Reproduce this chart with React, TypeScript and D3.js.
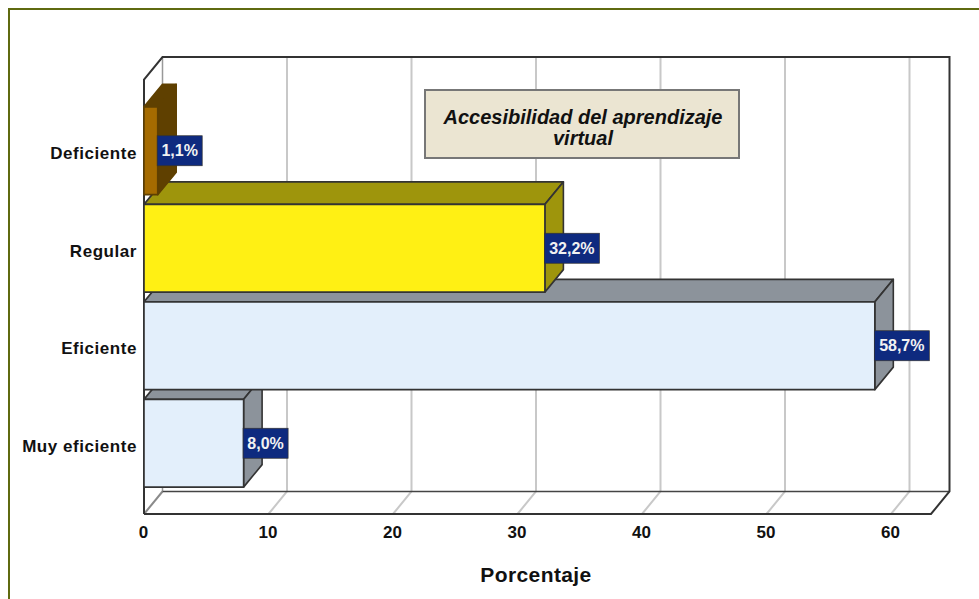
import React from 'react';
import * as d3 from 'd3';

const categories = ['Deficiente', 'Regular', 'Eficiente', 'Muy eficiente'];
const values = [1.1, 32.2, 58.7, 8.0];
const valueLabels = ['1,1%', '32,2%', '58,7%', '8,0%'];
const frontColors = ['#A56B00', '#FFF014', '#E3EFFB', '#E3EFFB'];
const sideColors = ['#5F4000', '#9E950C', '#8C939B', '#8C939B'];
const edgeColors = ['#5F4000', '#333', '#333', '#333'];
const xTicks = [0, 10, 20, 30, 40, 50, 60];
const titleLines = ['Accesibilidad del aprendizaje', 'virtual'];

const WIDTH = 979;
const HEIGHT = 599;
const DX = 18.5;
const DY = -22.5;
const FONT = '"Liberation Sans", Arial, sans-serif';

// front plane of the 3D box
const left = 144;
const right = 931;
const top = 79.5;
const bottom = 514;

const App: React.FC = () => {
  const x = d3.scaleLinear().domain([0, 60]).range([left, 891]);
  const y = d3.scaleBand<string>()
    .domain(categories)
    .range([102, 492])
    .paddingInner(0.1)
    .paddingOuter(0.05);

  const line = d3.line();

  return (
    <svg
      width={WIDTH}
      height={HEIGHT}
      style={{ position: 'absolute', left: 0, top: 0, background: '#fff' }}
      fontFamily={FONT}
    >
      {/* outer frame */}
      <path d="M979,9H9V599" fill="none" stroke="#5F6A10" strokeWidth={2} />

      {/* grid on back wall and floor */}
      {xTicks.slice(1).map(t => (
        <path
          key={t}
          d={line([[x(t) + DX, top + DY], [x(t) + DX, bottom + DY], [x(t), bottom]]) || ''}
          fill="none"
          stroke="#C8C8C8"
          strokeWidth={2}
        />
      ))}

      {/* box outline */}
      <path
        d={line([[left, bottom], [left + DX, bottom + DY]]) || ''}
        stroke="#8A8A8A"
        strokeWidth={2}
        fill="none"
      />
      <path
        d={line([[left + DX, top + DY], [left + DX, bottom + DY]]) || ''}
        stroke="#999"
        strokeWidth={1.5}
        fill="none"
      />
      <path
        d={line([[left + DX, bottom + DY], [right + DX, bottom + DY]]) || ''}
        stroke="#444"
        strokeWidth={1.5}
        fill="none"
      />
      <path
        d={line([
          [left, bottom],
          [left, top],
          [left + DX, top + DY],
          [right + DX, top + DY],
          [right + DX, bottom + DY],
          [right, bottom],
          [left, bottom]
        ]) || ''}
        stroke="#333"
        strokeWidth={2}
        fill="none"
      />

      {/* bars, the lower ones go first so the upper ones overlap them */}
      {categories.map((c, i) => ({ c, i })).reverse().map(({ c, i }) => {
        const y0 = y(c) || 0;
        const h = y.bandwidth();
        const x1 = x(values[i]);
        return (
          <g key={c} stroke={edgeColors[i]} strokeWidth={1.6} strokeLinejoin="round">
            <path
              d={line([[left, y0], [left + DX, y0 + DY], [x1 + DX, y0 + DY], [x1, y0]]) + 'Z'}
              fill={sideColors[i]}
            />
            <path
              d={line([[x1, y0], [x1 + DX, y0 + DY], [x1 + DX, y0 + h + DY], [x1, y0 + h]]) + 'Z'}
              fill={sideColors[i]}
            />
            <rect x={left} y={y0} width={x1 - left} height={h} fill={frontColors[i]} />
          </g>
        );
      })}

      {/* value labels */}
      {categories.map((c, i) => {
        const cy = (y(c) || 0) + y.bandwidth() / 2;
        const x1 = x(values[i]);
        const w = valueLabels[i].length === 4 ? 45 : 55;
        return (
          <g key={c}>
            <rect x={x1 - 0.5} y={cy - 15} width={w} height={30} fill="#0E2A7F" stroke="#333" strokeWidth={0.7} />
            <text
              x={x1 - 0.5 + w / 2}
              y={cy + 5.5}
              textAnchor="middle"
              fontSize={16}
              fontWeight="bold"
              fill="#F2F2F2"
            >
              {valueLabels[i]}
            </text>
          </g>
        );
      })}

      {/* category labels */}
      {categories.map(c => (
        <text
          key={c}
          x={137}
          y={(y(c) || 0) + y.bandwidth() / 2 + 8.5}
          textAnchor="end"
          fontSize={17}
          letterSpacing={0.55}
          fontWeight="bold"
          fill="#111"
        >
          {c}
        </text>
      ))}

      {/* x axis labels */}
      {xTicks.map(t => (
        <text key={t} x={x(t) - 0.5} y={538} textAnchor="middle" fontSize={17} fontWeight="bold" fill="#111">
          {t}
        </text>
      ))}
      <text x={536} y={582} textAnchor="middle" fontSize={21} letterSpacing={0.4} fontWeight="bold" fill="#111">
        Porcentaje
      </text>

      {/* title box */}
      <rect x={425} y={90} width={314} height={68} fill="#EBE5D2" stroke="#777" strokeWidth={2} />
      {titleLines.map((t, i) => (
        <text
          key={t}
          x={583}
          y={124 + i * 21}
          textAnchor="middle"
          fontSize={20}
          fontWeight="bold"
          fontStyle="italic"
          fill="#111"
        >
          {t}
        </text>
      ))}
    </svg>
  );
};

export default App;
